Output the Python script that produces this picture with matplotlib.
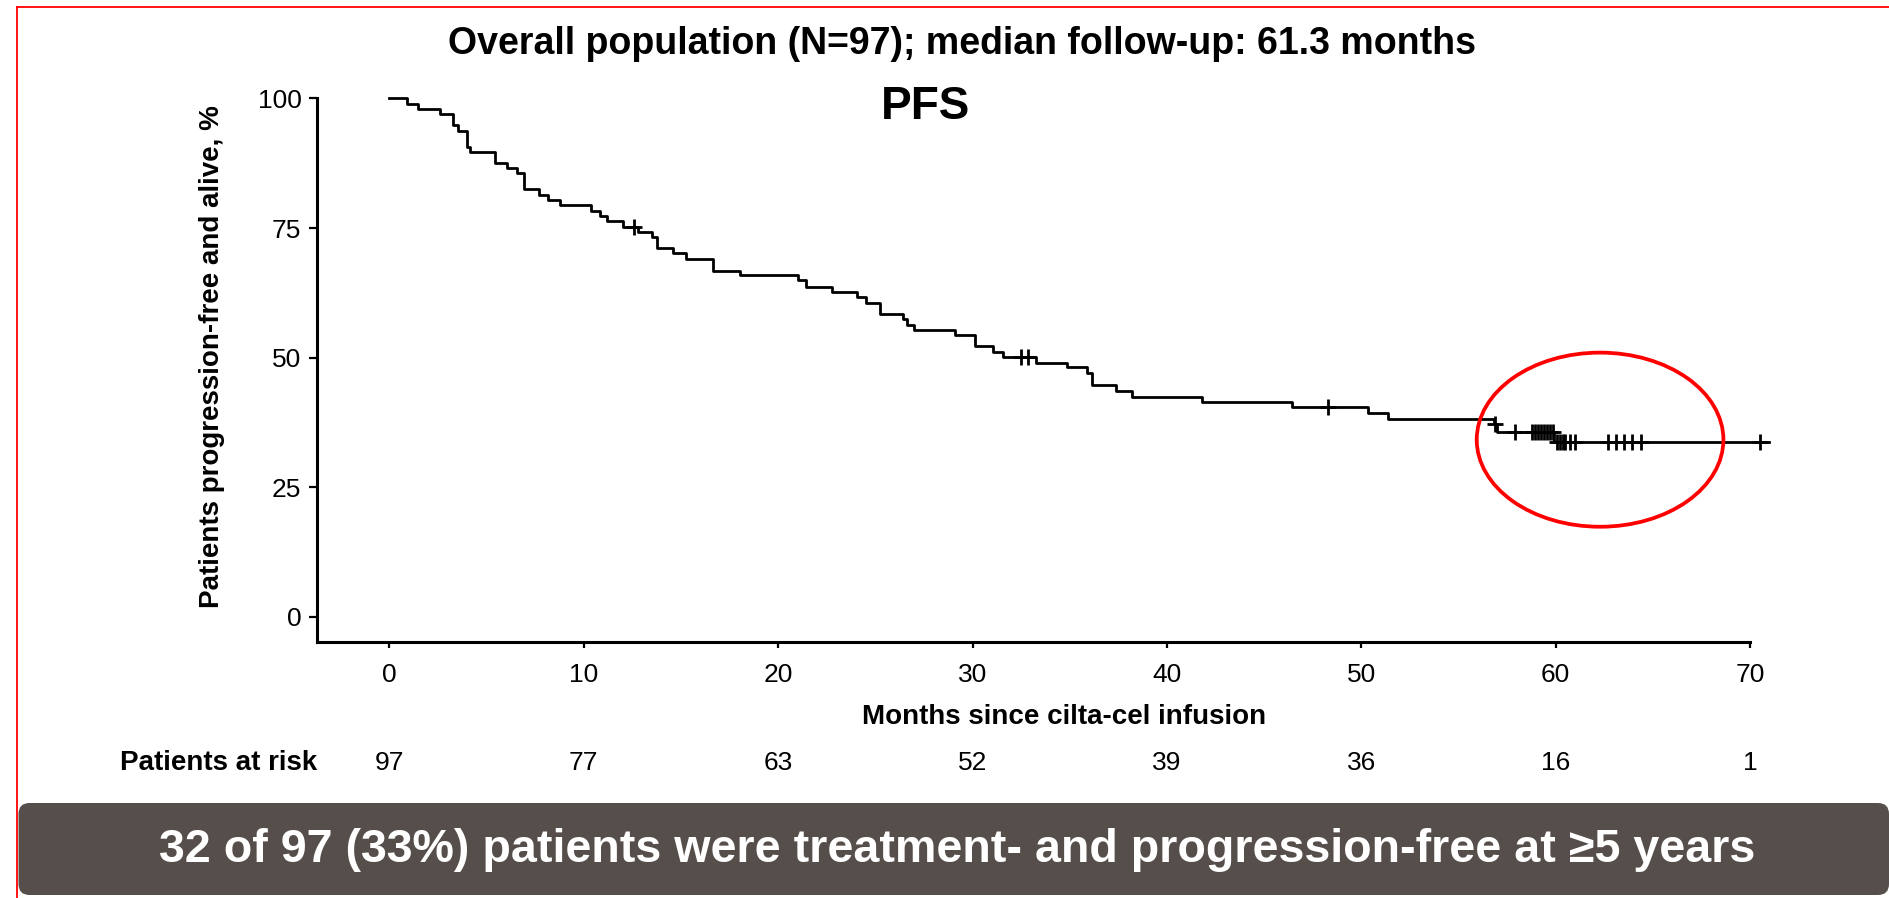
import numpy as np
import matplotlib
matplotlib.use("Agg")
import matplotlib.pyplot as plt
from matplotlib.patches import Ellipse, FancyBboxPatch
from matplotlib.lines import Line2D
from matplotlib.transforms import IdentityTransform, blended_transform_factory

plt.rcParams['font.family'] = ['Liberation Sans', 'DejaVu Sans']

# Kaplan-Meier PFS estimate: months at which the curve steps down, and level after each step (%)
event_months = [0.9, 1.45, 2.6, 3.27, 3.55, 4.0, 4.15, 5.44, 6.07, 6.55, 6.93, 7.72, 8.18,
                8.78, 10.36, 10.84, 11.18, 12.0, 12.81, 13.5, 13.75, 14.61, 15.26, 16.67,
                18.04, 21.04, 21.43, 22.79, 24.07, 24.5, 25.24, 26.41, 26.65, 26.99, 29.1,
                30.13, 31.07, 31.55, 33.27, 34.84, 35.9, 36.13, 37.38, 38.19, 41.79, 46.42,
                50.36, 51.39, 56.8, 57.0, 59.9]
pfs_pct = [98.97, 97.94, 96.91, 94.85, 93.81, 90.72, 89.69, 87.63, 86.6, 85.57, 82.47, 81.44,
           80.41, 79.38, 78.35, 77.32, 76.29, 75.26, 74.2, 73.2, 71.1, 70.1, 69.0, 66.8,
           65.9, 64.9, 63.7, 62.7, 61.6, 60.5, 58.4, 57.4, 56.3, 55.3, 54.4, 52.2, 51.1,
           50.05, 49.0, 48.1, 47.0, 44.7, 43.6, 42.45, 41.5, 40.4, 39.25, 38.15, 37.1,
           35.7, 33.65]
censor_months = [12.59, 32.48, 32.87, 48.27, 56.9, 57.9, 58.8, 58.95, 59.1, 59.25, 59.4,
                 59.55, 59.7, 59.85, 60.05, 60.2, 60.35, 60.5, 60.75, 60.98, 62.7, 63.1,
                 63.5, 63.9, 64.4, 70.5]
last_followup = 70.96

x_ticks = [0, 10, 20, 30, 40, 50, 60, 70]
y_ticks = [0, 25, 50, 75, 100]
risk_months = [0, 10, 20, 30, 40, 50, 60, 70]
at_risk = [97, 77, 63, 52, 39, 36, 16, 1]

title = "Overall population (N=97); median follow-up: 61.3 months"
panel = "PFS"
x_label = "Months since cilta-cel infusion"
y_label = "Patients progression-free and alive, %"
risk_label = "Patients at risk"
banner = "32 of 97 (33%) patients were treatment- and progression-free at \u22655 years"

W, H = 1890, 898
fig = plt.figure(figsize=(W / 100, H / 100), dpi=100)
fig.patch.set_facecolor("white")


def fx(px):
    return px / W


def fy(py):
    return 1 - py / H


ax = fig.add_axes([fx(317.4), fy(642.1), fx(1779.3) - fx(317.4), fy(93.3) - fy(642.1)])
ax.set_xlim(-3.7, 71.5)
ax.set_ylim(-4.9, 101)
for side in ("top", "right"):
    ax.spines[side].set_visible(False)
ax.spines["left"].set_bounds(-4.9, 100)
ax.spines["bottom"].set_bounds(-3.7, 70)
for side in ("left", "bottom"):
    ax.spines[side].set_linewidth(2.2)

ax.set_xticks(x_ticks)
ax.set_yticks(y_ticks)
ax.tick_params(axis="x", length=4.5, width=1.6, pad=10.5, labelsize=19)
ax.tick_params(axis="y", length=5.5, width=1.6, pad=6, labelsize=19)

# survival curve
times = [0] + event_months + [last_followup]
levels = [100] + pfs_pct + [pfs_pct[-1]]
ax.step(times, levels, where="post", color="black", lw=2.0, clip_on=False, zorder=3)

# censored observations sit on the curve level at their time
step_levels = np.array([100] + pfs_pct)
idx = np.searchsorted(np.array(event_months), np.array(censor_months), side="right")
ax.plot(censor_months, step_levels[idx], ls="none", marker="+", ms=11, mew=2.0,
        color="black", clip_on=False, zorder=4)

# highlight of the plateau
ax.add_patch(Ellipse((62.28, 34.16), 12.69, 33.6, fill=False, ec="#FF0000", lw=2.7,
                     clip_on=False, zorder=5))

# texts
fig.text(fx(962), fy(44), title, ha="center", va="center", fontsize=27, weight="bold")
fig.text(fx(926), fy(107), panel, ha="center", va="center", fontsize=33, weight="bold")
fig.text(fx(1064), fy(716.5), x_label, ha="center", va="center", fontsize=20, weight="bold")
fig.text(fx(212), fy(356.5), y_label, ha="center", va="center", rotation=90,
         fontsize=20, weight="bold")
fig.text(fx(120), fy(763), risk_label, ha="left", va="center", fontsize=20, weight="bold")

risk_tr = blended_transform_factory(ax.transData, fig.transFigure)
for m, n in zip(risk_months, at_risk):
    ax.text(m, fy(763), str(n), transform=risk_tr, ha="center", va="center", fontsize=19)

# slide frame lines
fig.add_artist(Line2D([fx(16.7), 1], [fy(6.5), fy(6.5)], transform=fig.transFigure,
                      color="#FF0000", lw=1.3))
fig.add_artist(Line2D([fx(16.7), fx(16.7)], [fy(6.5), 0], transform=fig.transFigure,
                      color="#FF0000", lw=1.3))

# conclusion banner
fig.add_artist(FancyBboxPatch((18.5, H - 895), 1889 - 18.5, 895 - 803,
                              boxstyle="round,pad=0,rounding_size=11",
                              transform=IdentityTransform(), fc="#564E4A", ec="none"))
fig.text(fx(957), fy(850), banner, ha="center", va="center", fontsize=33.6,
         weight="bold", color="white")

fig.savefig("out.png", dpi=100, facecolor="white")
